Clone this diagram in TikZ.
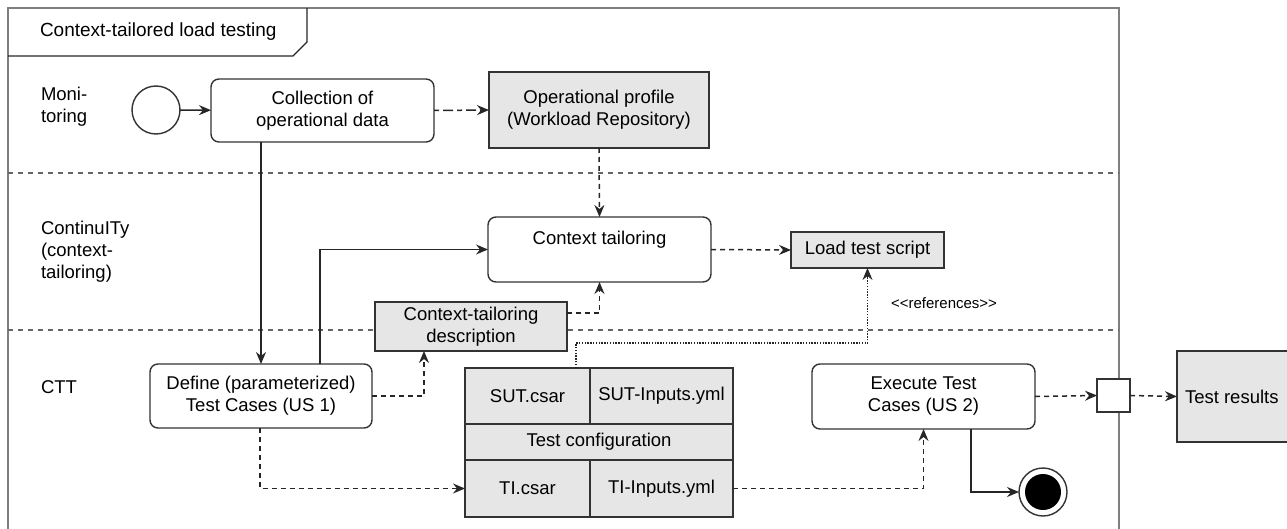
\documentclass[tikz,border=0pt]{standalone}
\usepackage{fontspec}
\setmainfont{Liberation Sans}
\usetikzlibrary{arrows.meta,calc}
\definecolor{boxfill}{HTML}{E6E6E6}
\definecolor{linedark}{HTML}{333333}
\definecolor{framegray}{HTML}{7F7F7F}
\definecolor{lanegray}{HTML}{666666}

\begin{document}
\begin{tikzpicture}[x=1pt,y=-1pt,
  every node/.style={font=\fontsize{18.5}{22}\selectfont, inner sep=0pt, outer sep=0pt},
  action/.style={draw=linedark, line width=1.4pt, rounded corners=8pt, fill=white, align=center},
  artifact/.style={draw=linedark, line width=1.4pt, fill=boxfill, align=center},
  pinbox/.style={draw=linedark, line width=1.4pt, fill=white, minimum size=33pt},
  lanelabel/.style={anchor=west, align=left},
  tip/.style={-{Stealth[length=12pt,width=10pt,inset=4pt]}},
  flow/.style={draw=black!85, line width=1.5pt, tip},
  objflow/.style={flow, dash pattern=on 5pt off 4pt},
  dashdotflow/.style={flow, dash pattern=on 5pt off 4pt on 10pt off 4pt},
  refline/.style={flow, line width=1.1pt, dash pattern=on 1.4pt off 1.4pt},
  framebar/.style={draw=framegray, line width=2pt},
  laneline/.style={draw=lanegray, line width=1.5pt, dash pattern=on 5pt off 5pt}
]
\useasboundingbox (0,0) rectangle (1287,529);

% activity frame and its name tab
\draw[framebar] (8,529) -- (8,8) -- (1119,8) -- (1119,529);
\draw[draw=black!85, line width=1.4pt] (8,56) -- (293,56) -- (307,42) -- (307,8);
\node[anchor=west, font=\fontsize{19}{22}\selectfont] (title) at (40,32) {Context-tailored load testing};

% swimlane separators
\draw[laneline] (8,173) -- (1119,173);
\draw[laneline] (8,330) -- (1119,330);

% lane names
\node[lanelabel] (laneMon) at (41,107) {Moni-\\toring};
\node[lanelabel] (laneCI) at (41,252) {ContinuITy\\(context-\\tailoring)};
\node[lanelabel] (laneCTT) at (41,387) {CTT};

% monitoring lane
\node[circle, draw=linedark, line width=1.4pt, fill=white, minimum size=48pt] (start) at (156,110) {};
\node[action, minimum width=223pt, minimum height=63pt] (collect) at (322.5,110.5) {Collection of\\operational data};
\node[artifact, minimum width=220pt, minimum height=76pt] (opprof) at (599,110) {Operational profile\\(Workload Repository)};

% context-tailoring lane
\node[action, minimum width=223pt, minimum height=65pt,
      label={[yshift=9.5pt]center:Context tailoring}] (ctx) at (599.5,249.5) {};
\node[artifact, minimum width=153pt, minimum height=36pt] (lts) at (867.5,250) {Load test script};
\node[artifact, minimum width=192pt, minimum height=49pt] (ctd) at (471,326.5) {Context-tailoring\\description};

% CTT lane
\node[action, minimum width=222pt, minimum height=64pt] (define) at (261,396) {Define (parameterized)\\Test Cases (US 1)};
\node[artifact, minimum width=125pt, minimum height=56pt] (sut) at (527.5,396) {SUT.csar};
\node[artifact, minimum width=143pt, minimum height=56pt] (sutin) at (661.5,396) {SUT-Inputs.yml};
\node[artifact, minimum width=268pt, minimum height=36pt] (tconf) at (599,442) {Test configuration};
\node[artifact, minimum width=125pt, minimum height=57pt] (ti) at (527.5,488.5) {TI.csar};
\node[artifact, minimum width=143pt, minimum height=57pt] (tiin) at (661.5,488.5) {TI-Inputs.yml};
\node[action, minimum width=223pt, minimum height=65pt] (exec) at (923.5,396.5) {Execute Test\\Cases (US 2)};
\node[circle, draw=linedark, line width=1.4pt, fill=white, minimum size=48pt] (final) at (1043,492) {};
\fill[black] (final.center) circle[radius=18];
\node[pinbox] (pin) at (1113.5,395.5) {};
\node[artifact, minimum width=130pt, minimum height=91pt,
      label={[anchor=west, xshift=8pt]west:Test results}] (results) at (1242,396.5) {};

% control flow
\draw[flow] (start) -- (collect);
\draw[flow] (define.north |- collect.south) -- (define.north);
\draw[flow] ([xshift=59pt]define.north) |- (ctx.west);
\draw[flow] ([xshift=47.5pt]exec.south) |- (final.west);

% object flow
\draw[dashdotflow] (collect.east) -- (opprof.west);
\draw[objflow] (opprof.south) -- (ctx.north);
\draw[objflow] (ctx.east) -- (lts.west);
\draw[objflow] (define.east) -| ([xshift=-47pt]ctd.south);
\draw[objflow] ([yshift=13.5pt]ctd.east) -| (ctx.south);
\draw[objflow] ([xshift=-1pt]define.south) |- (ti.west);
\draw[objflow] (tiin.east) -| (exec.south);
\draw[objflow] (exec.east) -- (pin.west);
\draw[objflow] (pin.east) -- (results.west);

% reference from the test configuration to the generated script
\draw[refline] ([xshift=48.5pt]sut.north) -- ++(0,-25) -| (lts.south);
\node[font=\fontsize{15}{18}\selectfont] (reflabel) at (944,303) {<\kern0pt<references>\kern0pt>};
\end{tikzpicture}
\end{document}
